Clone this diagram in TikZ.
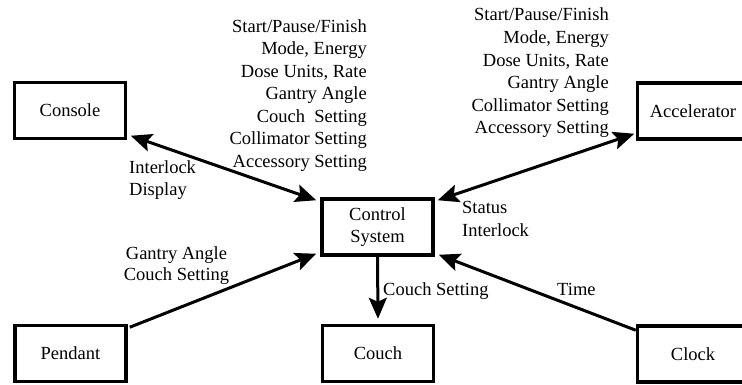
\documentclass[tikz,border=0pt]{standalone}
\usepackage{fontspec}
\setmainfont{Liberation Serif}
\usetikzlibrary{arrows.meta,calc}
\tikzset{
  box/.style={draw, line width=3.5pt, minimum width=111pt, minimum height=56pt, inner sep=0pt, align=center,
    font=\fontsize{18.5}{22}\selectfont},
  lbl/.style={inner sep=0pt, font=\fontsize{18.5}{22.6}\selectfont},
  conn/.style={line width=3pt, -{Stealth[length=21pt,width=18pt,inset=4pt]}},
  dconn/.style={line width=3pt, {Stealth[length=21pt,width=18pt,inset=4pt]}-{Stealth[length=21pt,width=18pt,inset=4pt]}}
}
\begin{document}
\begin{tikzpicture}[x=1pt,y=-1pt]
\clip (0,0) rectangle (742,385);
\node[box] (console) at (70,110.5) {Console};
\node[box] (accel) at (693,111) {Accelerator};
\node[box] (control) at (377.5,227) {Control\\System};
\node[box] (pendant) at (70.5,353.5) {Pendant};
\node[box] (couch) at (378,353.5) {Couch};
\node[box] (clock) at (693,354) {Clock};

\draw[dconn] ($(console.south east)+(3.5,-4.5)$) -- ($(control.north west)+(-4,3)$);
\draw[dconn] ($(accel.south west)+(-1.5,-7)$) -- ($(control.north east)+(3,3)$);
\draw[conn] ($(pendant.north east)+(2,3.5)$) -- ($(control.south west)+(-4,-3)$);
\draw[conn] ($(clock.north west)+(0,6)$) -- ($(control.south east)+(4,-2)$);
\draw[conn] (control.south) -- ($(couch.north)+(0,-5)$);

\node[lbl, anchor=base east, align=right] (cmdleft) at (367,167.6) {Start/Pause/Finish\\Mode, Energy\\Dose Units, Rate\\Gantry Angle\\Couch\ \ Setting\\Collimator Setting\\Accessory Setting};
\node[lbl, anchor=base east, align=right] (cmdright) at (609,134) {Start/Pause/Finish\\Mode, Energy\\Dose Units, Rate\\Gantry Angle\\Collimator Setting\\Accessory Setting};
\node[lbl, anchor=base west, align=left, font=\fontsize{18.5}{22}\selectfont] (disp) at (129,196) {Interlock\\Display};
\node[lbl, anchor=base west, align=left, font=\fontsize{18.5}{22}\selectfont] (stat) at (462,236) {Status\\Interlock};
\node[lbl, anchor=base, align=center, font=\fontsize{18.5}{21}\selectfont] (pend) at (176.5,280) {Gantry Angle\\Couch Setting};
\node[lbl, anchor=base west] (couchlbl) at (383,295) {Couch Setting};
\node[lbl, anchor=base west] (time) at (557,295) {Time};
\end{tikzpicture}
\end{document}
